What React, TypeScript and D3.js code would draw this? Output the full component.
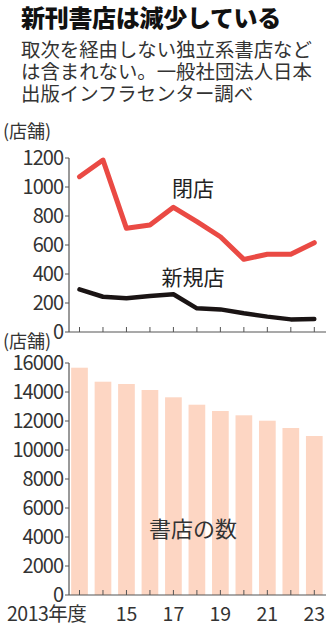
import React from "react";
import * as d3 from "d3";

const years = [2013, 2014, 2015, 2016, 2017, 2018, 2019, 2020, 2021, 2022, 2023];
const closures = [1071, 1186, 715, 738, 860, 761, 657, 501, 536, 536, 616];
const openings = [294, 243, 232, 248, 260, 163, 156, 129, 106, 87, 90];
const storeCounts = [15676, 14710, 14552, 14138, 13634, 13124, 12690, 12393, 12021, 11517, 10966];
const topTicks = [0, 200, 400, 600, 800, 1000, 1200];
const bottomTicks = [0, 2000, 4000, 6000, 8000, 10000, 12000, 14000, 16000];
const xLabels: [number, string][] = [[2015, "15"], [2017, "17"], [2019, "19"], [2021, "21"], [2023, "23"]];
const titleText = "新刊書店は減少している";
const subtitleLines = ["取次を経由しない独立系書店など", "は含まれない。一般社団法人日本", "出版インフラセンター調べ"];

const FONT = "'Noto Sans CJK JP', 'Noto Sans', sans-serif";
const AX = "#555";

export default function App() {
  const x = d3.scalePoint<number>().domain(years).range([79.5, 314.3]);
  const yTop = d3.scaleLinear().domain([0, 1200]).range([332, 158]);
  const yBot = d3.scaleLinear().domain([0, 16000]).range([595, 363]);
  const axisX = 69;
  const axisRight = 326;
  const barW = 16.7;

  const line = d3
    .line<number>()
    .x((_, i) => x(years[i])!)
    .curve(d3.curveLinear);
  const redPath = line.y((d) => yTop(d))(closures) || "";
  const blackPath = line.y((d) => yTop(d))(openings) || "";

  return (
    <svg width={335} height={630} style={{ position: "absolute", left: 0, top: 0, background: "#fff" }} fontFamily={FONT}>
      <rect width={335} height={630} fill="#fff" />
      <text x={21} y={27} fontSize={24} fontWeight={900} fill="#111" letterSpacing={-0.3}>{titleText}</text>
      {subtitleLines.map((t, i) => (
        <text key={i} x={21} y={57 + i * 22} fontSize={19.4} fill="#333">{t}</text>
      ))}

      {/* top chart */}
      <text x={3} y={138} fontSize={18} fill="#333">(店舗)</text>
      {topTicks.map((t) => (
        <g key={t}>
          <line x1={axisX - 4} x2={axisX} y1={yTop(t)} y2={yTop(t)} stroke={AX} strokeWidth={1} />
          <text x={63} y={yTop(t) + 7} fontSize={20} textAnchor="end" fill="#333" letterSpacing={-1}>{t}</text>
        </g>
      ))}
      <line x1={axisX} x2={axisX} y1={yTop(1200)} y2={yTop(0)} stroke={AX} strokeWidth={1.2} />
      <line x1={axisX} x2={axisRight} y1={yTop(0)} y2={yTop(0)} stroke={AX} strokeWidth={1.2} />
      {years.map((yr) => (
        <line key={yr} x1={x(yr)} x2={x(yr)} y1={yTop(0)} y2={yTop(0) - 5} stroke={AX} strokeWidth={1} />
      ))}
      <path d={redPath} fill="none" stroke="#ea4a44" strokeWidth={5} strokeLinejoin="round" strokeLinecap="round" />
      <path d={blackPath} fill="none" stroke="#1a1414" strokeWidth={4.5} strokeLinejoin="round" strokeLinecap="round" />
      <text x={193} y={196} fontSize={21} textAnchor="middle" fill="#222">閉店</text>
      <text x={193} y={285} fontSize={21} textAnchor="middle" fill="#222">新規店</text>

      {/* bottom chart */}
      <text x={3} y={348} fontSize={18} fill="#333">(店舗)</text>
      {years.map((yr, i) => (
        <rect key={yr} x={x(yr)! - barW / 2} width={barW} y={yBot(storeCounts[i])} height={yBot(0) - yBot(storeCounts[i])} fill="#fdd6c3" />
      ))}
      {bottomTicks.map((t) => (
        <g key={t}>
          <line x1={axisX - 4} x2={axisX} y1={yBot(t)} y2={yBot(t)} stroke={AX} strokeWidth={1} />
          <text x={63} y={yBot(t) + 7} fontSize={20} textAnchor="end" fill="#333" letterSpacing={-1}>{t}</text>
        </g>
      ))}
      <line x1={axisX} x2={axisX} y1={yBot(16000)} y2={yBot(0)} stroke={AX} strokeWidth={1.2} />
      <line x1={axisX} x2={axisRight} y1={yBot(0)} y2={yBot(0)} stroke={AX} strokeWidth={1.2} />
      {years.map((yr) => (
        <line key={yr} x1={x(yr)} x2={x(yr)} y1={yBot(0)} y2={yBot(0) - 5} stroke={AX} strokeWidth={1} />
      ))}
      <text x={193} y={537} fontSize={22} textAnchor="middle" fill="#333">書店の数</text>
      <text x={7} y={621} fontSize={19.5} fill="#333" letterSpacing={-0.5}>2013年度</text>
      {xLabels.map(([yr, l]) => (
        <text key={yr} x={x(yr)} y={621} fontSize={19.5} textAnchor="middle" fill="#333">{l}</text>
      ))}
    </svg>
  );
}
